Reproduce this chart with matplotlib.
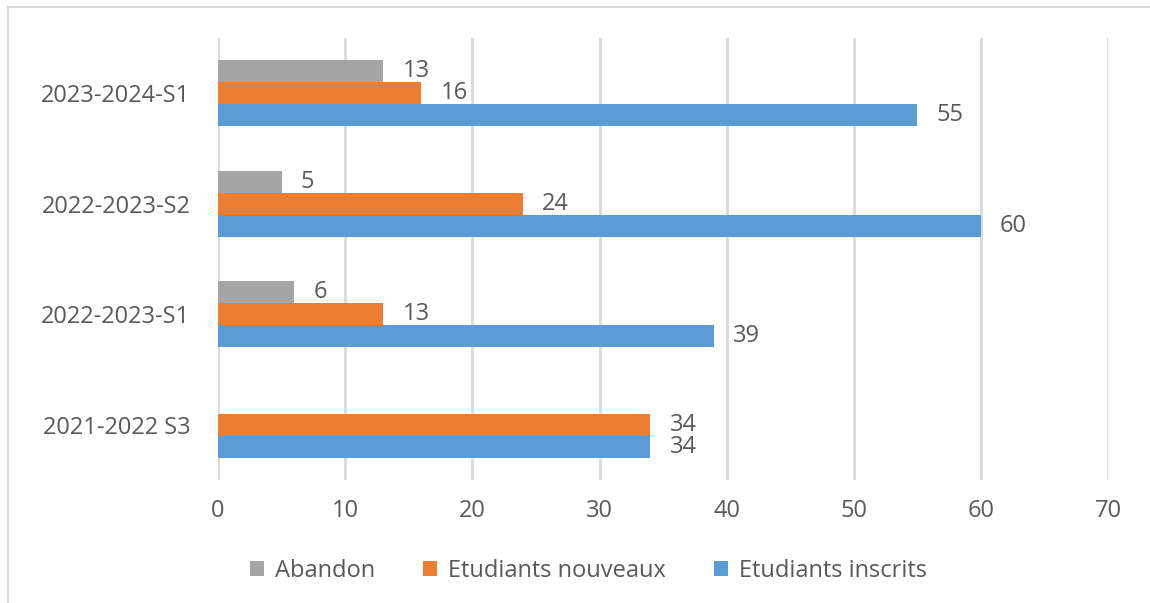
import matplotlib.pyplot as plt
from matplotlib.lines import Line2D
import numpy as np

categories = ['2021-2022 S3', '2022-2023-S1', '2022-2023-S2', '2023-2024-S1']
abandon = [0, 6, 5, 13]
nouveaux = [34, 13, 24, 16]
inscrits = [34, 39, 60, 55]

c_gray = '#A5A5A5'
c_orange = '#ED7D31'
c_blue = '#5B9BD5'
txt = '#595959'

plt.rcParams['font.family'] = ['Open Sans', 'DejaVu Sans']

fig = plt.figure(figsize=(11.5, 6.03), dpi=100)
ax = fig.add_axes([0.1896, 0.204, 0.774, 0.733])

y = np.arange(len(categories))
h = 0.2
ax.barh(y + h, abandon, height=h, color=c_gray, label='Abandon', zorder=3)
ax.barh(y, nouveaux, height=h, color=c_orange, label='Etudiants nouveaux', zorder=3)
ax.barh(y - h, inscrits, height=h, color=c_blue, label='Etudiants inscrits', zorder=3)

# data labels (no label where the value is 0)
for vals, off in [(abandon, h), (nouveaux, 0), (inscrits, -h)]:
    for yi, v in zip(y, vals):
        if v:
            ax.text(v + 1.5, yi + off, str(v), va='center', ha='left',
                    fontsize=17, color=txt)

ax.set_xlim(0, 70)
ax.set_ylim(-0.5, 3.5)
ax.set_xticks(range(0, 71, 10))
ax.set_yticks(y)
ax.set_yticklabels(categories)
ax.tick_params(axis='both', length=0, labelsize=17, labelcolor=txt)
ax.tick_params(axis='x', pad=14)
ax.tick_params(axis='y', pad=20)
ax.grid(axis='x', color='#D9D9D9', linewidth=2, zorder=0)
for s in ax.spines.values():
    s.set_visible(False)

ax.legend(loc='upper center', bbox_to_anchor=(0.416, -0.13), ncol=3, frameon=False,
          fontsize=17, labelcolor=txt, handlelength=0.6, handleheight=0.6,
          handletextpad=0.45, columnspacing=2.05)

# outer frame (top and left edges visible)
fig.add_artist(Line2D([8 / 1150, 1], [1 - 7 / 603, 1 - 7 / 603],
                      transform=fig.transFigure, color='#D9D9D9', linewidth=1.5))
fig.add_artist(Line2D([8 / 1150, 8 / 1150], [0, 1 - 7 / 603],
                      transform=fig.transFigure, color='#D9D9D9', linewidth=1.5))

fig.savefig('out.png', dpi=100)
